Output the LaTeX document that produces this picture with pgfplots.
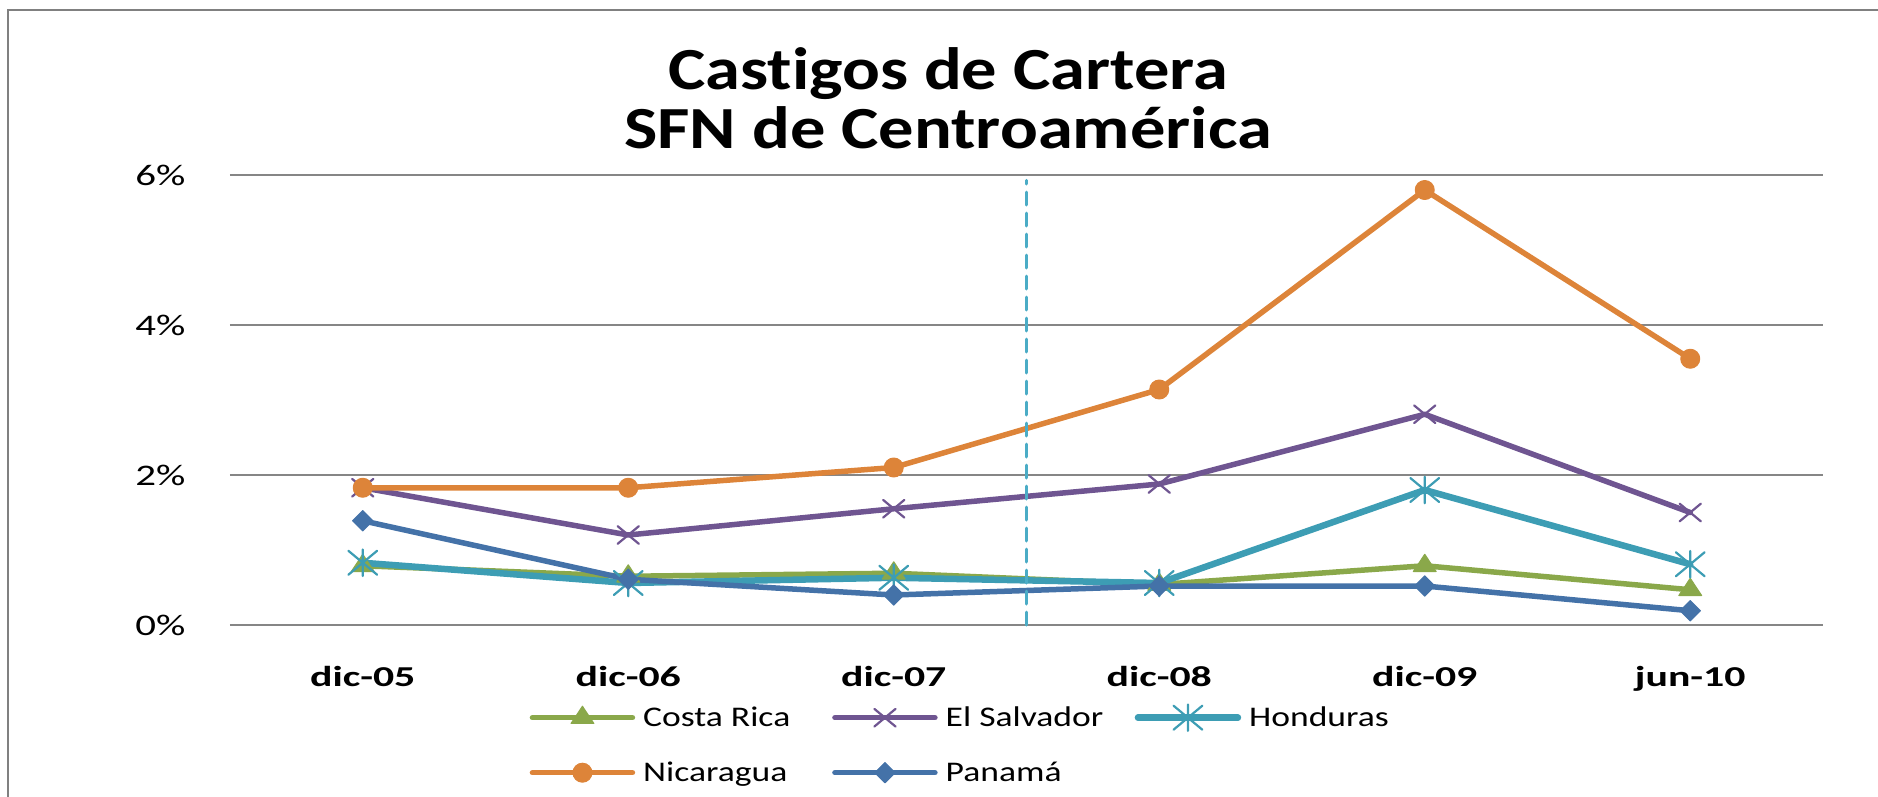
\documentclass[border=0pt]{standalone}
\usepackage{fontspec}
\setmainfont{Carlito}
\newfontfamily\titfont[FakeStretch=1.18, Ligatures=NoCommon]{Carlito}
\newfontfamily\tickfont[FakeStretch=1.37]{Carlito}
\newfontfamily\xlabfont[FakeStretch=1.45]{Carlito}
\newfontfamily\legfont[FakeStretch=1.25, Ligatures=NoCommon]{Carlito}
\usepackage{pgfplots}
\pgfplotsset{compat=1.18}

\definecolor{crgreen}{RGB}{138,168,74}
\definecolor{svpurple}{RGB}{111,85,145}
\definecolor{hnteal}{RGB}{61,157,180}
\definecolor{niorange}{RGB}{221,132,57}
\definecolor{pablue}{RGB}{68,114,168}
\definecolor{dashblue}{RGB}{75,172,198}
\definecolor{gridgray}{RGB}{134,134,134}
\definecolor{framegray}{RGB}{128,128,128}

\pgfdeclareplotmark{xstar}{%
  \pgfpathmoveto{\pgfpoint{-\pgfplotmarksize}{-\pgfplotmarksize}}%
  \pgfpathlineto{\pgfpoint{\pgfplotmarksize}{\pgfplotmarksize}}%
  \pgfpathmoveto{\pgfpoint{-\pgfplotmarksize}{\pgfplotmarksize}}%
  \pgfpathlineto{\pgfpoint{\pgfplotmarksize}{-\pgfplotmarksize}}%
  \pgfpathmoveto{\pgfpoint{0pt}{-1.1\pgfplotmarksize}}%
  \pgfpathlineto{\pgfpoint{0pt}{1.1\pgfplotmarksize}}%
  \pgfusepathqstroke}

\newcommand{\lgt}[1]{\hspace*{0.8mm}\makebox[1.89cm][l]{#1}}

\pgfplotstableread{
x  cr    sv    hn    ni    pa
0  0.79  1.83  0.83  1.83  1.39
1  0.65  1.20  0.56  1.83  0.61
2  0.69  1.55  0.63  2.10  0.40
3  0.54  1.88  0.56  3.14  0.52
4  0.79  2.81  1.80  5.80  0.52
5  0.47  1.50  0.81  3.55  0.19
}\datatable

\begin{document}
\begin{tikzpicture}
\useasboundingbox (-2.30,-1.71) rectangle (16.48,6.25);
\draw[draw=framegray, line width=0.27mm] (-2.22,-1.80) -- (-2.22,6.15) -- (16.60,6.15);
\node[anchor=base, inner sep=0pt, font={\titfont\bfseries\fontsize{17pt}{20pt}\selectfont}] at (7.18,5.35) {Castigos de Cartera};
\node[anchor=base, inner sep=0pt, font={\titfont\bfseries\fontsize{17pt}{20pt}\selectfont}] at (7.18,4.765) {SFN de Centroamérica};
\begin{axis}[
  at={(0,0)}, anchor=south west, scale only axis,
  width=15.93cm, height=4.5cm,
  xmin=-0.5, xmax=5.5, ymin=0, ymax=6,
  xtick={0,1,2,3,4,5},
  xticklabels={dic-05,dic-06,dic-07,dic-08,dic-09,jun-10},
  ytick={0,2,4,6},
  yticklabels={0\%,2\%,4\%,6\%},
  ymajorgrids,
  grid style={gridgray, line width=0.2mm},
  axis line style={draw=none},
  tick style={draw=none},
  major tick length=0pt,
  clip=false,
  yticklabel style={anchor=east, inner sep=0pt, xshift=-0.44cm, font={\tickfont\fontsize{8.5pt}{10pt}\selectfont}},
  xticklabel style={anchor=base, inner sep=0pt, yshift=-0.617cm, font={\xlabfont\bfseries\fontsize{8.2pt}{10pt}\selectfont}},
  legend columns=3,
  legend style={at={(0.1877,-0.1711)}, anchor=north west, draw=none, fill=none, inner sep=0pt,
    column sep=0pt, row sep=2.5mm,
    nodes={inner sep=0pt, text height=2.4mm, text depth=0.6mm},
    font={\legfont\fontsize{8.1pt}{10pt}\selectfont}},
  legend cell align=left,
  legend image code/.code={\draw[#1, mark repeat=2, mark phase=2] plot coordinates {(0cm,0cm) (0.5cm,0cm) (1cm,0cm)};},
  every axis plot/.append style={line cap=round, line join=round},
]
\addplot[crgreen, line width=0.55mm, mark=triangle*, mark size=1.15mm, mark options={solid, fill=crgreen, draw=crgreen, line width=0.1mm, xscale=1.15}] table[x=x, y=cr] {\datatable};
\addlegendentry{\lgt{Costa Rica}}
\addplot[svpurple, line width=0.55mm, mark=x, mark size=1.25mm, mark options={solid, line width=0.22mm, xscale=1.2}] table[x=x, y=sv] {\datatable};
\addlegendentry{\lgt{El Salvador}}
\addplot[hnteal, line width=0.65mm, mark=xstar, mark size=1.2mm, mark options={solid, line width=0.22mm, xscale=1.2}] table[x=x, y=hn] {\datatable};
\addlegendentry{\lgt{Honduras}}
\addplot[niorange, line width=0.55mm, mark=*, mark size=0.95mm, mark options={solid, fill=niorange, draw=niorange, line width=0.1mm}] table[x=x, y=ni] {\datatable};
\addlegendentry{\lgt{Nicaragua}}
\addplot[pablue, line width=0.55mm, mark=square*, mark size=0.72mm, mark options={solid, rotate=45, fill=pablue, draw=pablue, line width=0.1mm}] table[x=x, y=pa] {\datatable};
\addlegendentry{\lgt{Panamá}}
\addplot[dashblue, line width=0.3mm, dash pattern=on 1.3mm off 0.8mm, forget plot] coordinates {(2.5,0) (2.5,5.93)};
\end{axis}
\end{tikzpicture}
\end{document}
